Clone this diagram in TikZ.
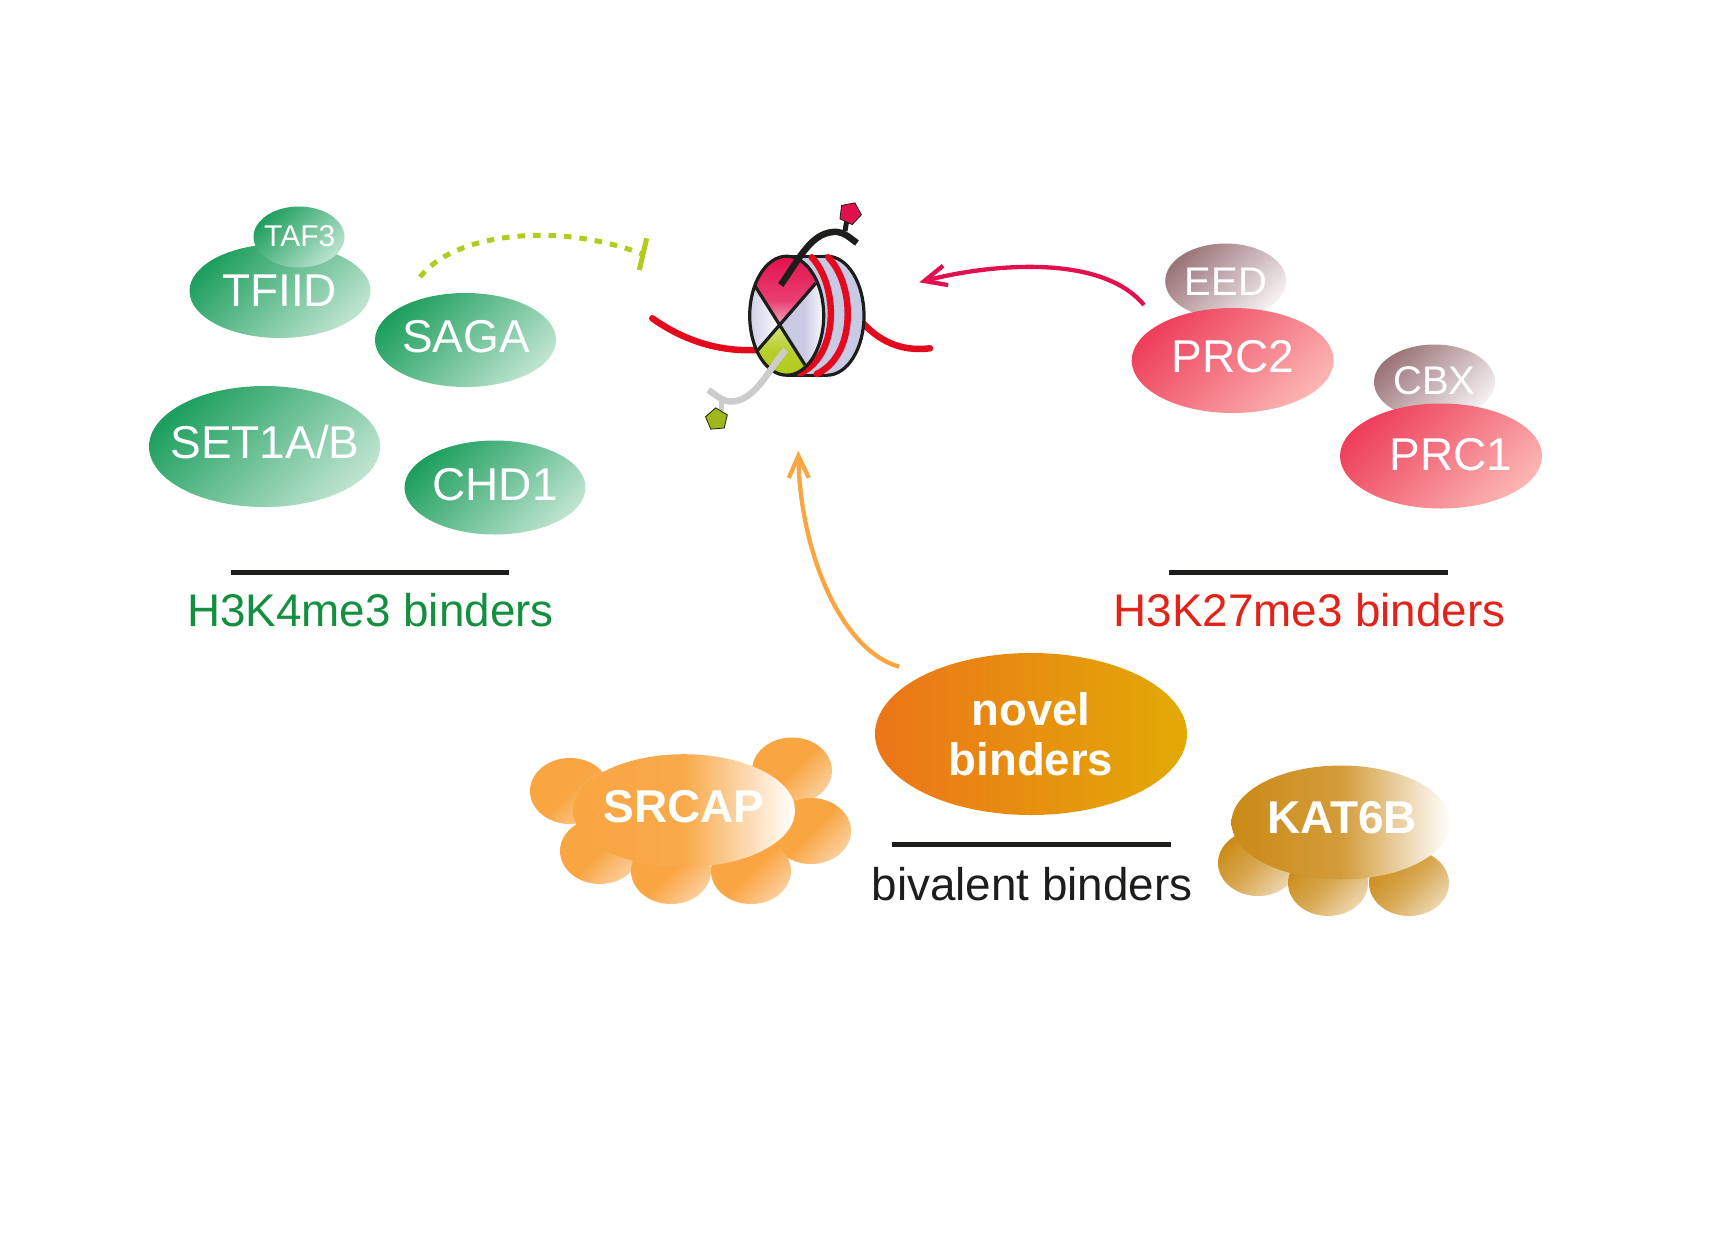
\documentclass[tikz,border=0pt]{standalone}
\usepackage{fontspec}
\setmainfont{Liberation Sans}
\usetikzlibrary{shapes.geometric,arrows.meta}
\definecolor{grnD}{HTML}{1F9F5F}
\definecolor{grnL}{HTML}{BCE3CE}
\definecolor{pnkD}{HTML}{EE3F5C}
\definecolor{pnkL}{HTML}{FBB4B0}
\definecolor{gryD}{HTML}{9A7478}
\definecolor{gryL}{HTML}{F5F0F1}
\definecolor{orgD}{HTML}{F9A541}
\definecolor{orgL}{HTML}{FBCE9C}
\definecolor{brnD}{HTML}{CB8A17}
\definecolor{brnL}{HTML}{EDD5AC}
\definecolor{lime}{HTML}{B2CB1C}
\definecolor{magn}{HTML}{E3104F}
\definecolor{hist}{HTML}{C8C9E3}
\definecolor{dna}{HTML}{E30A1E}
\definecolor{ink}{HTML}{1D1D1B}
\definecolor{novL}{HTML}{EC7519}
\definecolor{novR}{HTML}{E2AA05}
\definecolor{headG}{HTML}{12903F}
\definecolor{headR}{HTML}{E2231A}
\tikzset{
  blob/.style={ellipse, inner sep=0pt},
  h3k4/.style={blob, top color=grnD, bottom color=grnL, shading angle=45, minimum width=181pt, minimum height=94pt},
  prc/.style={blob, top color=pnkD, bottom color=pnkL, shading angle=45, minimum width=202pt, minimum height=105pt},
  sub/.style={blob, top color=gryD, bottom color=gryL, shading angle=45, minimum width=121pt, minimum height=75pt},
  lobeA/.style={blob, top color=orgD, bottom color=orgL, middle color=orgD, shading angle=45, minimum width=80pt, minimum height=66pt},
  lobeB/.style={blob, top color=brnD, bottom color=brnL, middle color=brnD!75!white, shading angle=45, minimum width=80pt, minimum height=66pt},
  lbl/.style={anchor=base, text=white, inner sep=0pt, font=\fontsize{46}{46}\selectfont},
  blbl/.style={lbl, font=\fontsize{46}{46}\selectfont\bfseries},
  head/.style={anchor=base, inner sep=0pt, font=\fontsize{45.8}{45.8}\selectfont},
  rule/.style={draw=ink, line width=5pt},
  tail/.style={line width=6.5pt},
  wrap/.style={dna, line width=6.5pt, line cap=round},
  barb/.style={-{Straight Barb[length=22pt, width=20pt]}, line width=4.3pt},
  pent/.style={regular polygon, regular polygon sides=5, inner sep=0pt, minimum size=23pt, draw=ink, line width=.8pt},
}
\begin{document}
\begin{tikzpicture}[x=1pt, y=-1pt]
\useasboundingbox (0,0) rectangle (1726,1232);

% H3K4me3 side
\node[h3k4] (tfiid) at (280,291) {};
\node[h3k4, minimum width=91pt, minimum height=61pt] (taf3) at (299,237) {};
\node[h3k4] (saga) at (465.5,340) {};
\node[h3k4, minimum width=231pt, minimum height=121pt] (set1) at (264.5,446.5) {};
\node[h3k4] (chd1) at (495,487.5) {};
\node[lbl, font=\fontsize{30}{30}\selectfont] (taf3text) at (299.7,246) {TAF3};
\node[lbl] (tfiidtext) at (279.5,306.7) {TFIID};
\node[lbl] (sagatext) at (466,352.7) {SAGA};
\node[lbl] (set1text) at (265,458) {SET1A/B};
\node[lbl] (chd1text) at (495,500) {CHD1};
\coordinate (ruleAl) at (231,572.5);
\coordinate (ruleAr) at (509,572.5);
\draw[rule] (ruleAl) -- (ruleAr);
\node[head, text=headG] (headA) at (370.5,626) {H3K4me3 binders};

% H3K27me3 side
\node[sub] (eed) at (1225.7,281) {};
\node[prc] (prc2) at (1232.7,360.5) {};
\node[sub] (cbx) at (1434.5,382) {};
\node[prc] (prc1) at (1441,456) {};
\node[lbl, font=\fontsize{40}{40}\selectfont] (eedtext) at (1225.8,295) {EED};
\node[lbl] (prc2text) at (1233,372.7) {PRC2};
\node[lbl, font=\fontsize{40}{40}\selectfont] (cbxtext) at (1434.5,394) {CBX};
\node[lbl] (prc1text) at (1451,470.7) {PRC1};
\coordinate (ruleBl) at (1169,572.5);
\coordinate (ruleBr) at (1448,572.5);
\draw[rule] (ruleBl) -- (ruleBr);
\node[head, text=headR] (headB) at (1309.5,626.5) {H3K27me3 binders};

% bivalent
\foreach \i/\x/\y in {1/570/791,2/792/770.5,3/811/831,4/600/851,5/751/871,6/671/871}
    \node[lobeA] (srcap\i) at (\x,\y) {};
\node[blob, left color=orgD, right color=white, middle color=orgD!95!white, minimum width=222pt, minimum height=113pt] (srcap) at (684,810.7) {};
\node[blbl] (srcaptext) at (684,822.7) {SRCAP};
\foreach \i/\x/\y in {1/1258/863,2/1409/883,3/1328/883}
    \node[lobeB] (kat\i) at (\x,\y) {};
\node[blob, left color=brnD, right color=white, middle color=brnD!85!white, minimum width=219pt, minimum height=114pt] (kat) at (1341,822.5) {};
\node[blbl] (kattext) at (1342,833) {KAT6B};
\node[blob, left color=novL, right color=novR, minimum width=312pt, minimum height=162pt, text=white, align=center, font=\fontsize{45.5}{50}\selectfont\bfseries] (novel) at (1031,734) {novel\\binders};
\coordinate (ruleCl) at (892,844);
\coordinate (ruleCr) at (1171,844);
\draw[rule] (ruleCl) -- (ruleCr);
\node[head, text=ink] (headC) at (1032,900) {bivalent binders};

% nucleosome
\coordinate (nuc) at (786.7,315.7);
\coordinate (mid) at (780.7,324);
\coordinate (ul) at (755,286);
\coordinate (ur) at (815.7,283.3);
\coordinate (ll) at (757.3,350.7);
\coordinate (lr) at (805,365);
\draw[wrap] (652.3,318.3) .. controls (680,338) and (715,352) .. (757,350);
\draw[wrap] (862,322) .. controls (878,340) and (900,352) .. (930,348.3);
\draw[ink, line width=3.2pt, fill=hist] (827,315.7) ellipse [x radius=37pt, y radius=59.5pt];
\fill[hist] (786.7,256.2) rectangle (827,375.2);
\draw[ink, line width=3.2pt] (786.7,256.2) -- (827,256.2) (786.7,375.2) -- (827,375.2);
\draw[wrap] (811.7,257.3) .. controls (838,285) and (840,355) .. (800,373.3);
\draw[wrap] (828.3,257.3) .. controls (855,285) and (857,355) .. (816.7,374);
\begin{scope}
\clip (nuc) ellipse [x radius=37pt, y radius=59.5pt];
\fill[hist] (745,250) rectangle (830,380);
\begin{scope}
\clip (mid) -- (ul) -- (745,250) -- (825,250) -- (ur) -- cycle;
\shade[top color=magn, bottom color=white, middle color=magn!80!white] (745,256) rectangle (830,345);
\end{scope}
\shade[left color=hist, right color=white] (mid) -- (ul) -- (745,286) -- (745,350) -- (ll) -- cycle;
\shade[left color=hist, right color=white, middle color=hist] (mid) -- (ur) -- (826,283) -- (826,365) -- (lr) -- cycle;
\shade[top color=lime!55!white, bottom color=lime, middle color=lime!95!white] (mid) -- (ll) -- (750,380) -- (810,380) -- (lr) -- cycle;
\draw[ink, line width=3.2pt] (ul) -- (lr) (ur) -- (ll);
\end{scope}
\draw[ink, line width=3.2pt] (nuc) ellipse [x radius=37pt, y radius=59.5pt];

% tails
\draw[ink, tail] (780.7,285) .. controls (800,258) and (812,230) .. (838,232) .. controls (845,233) and (850,238) .. (857,243);
\draw[ink, line width=5pt] (845,231) -- (846.7,221);
\node[pent, fill=magn, rotate=-25] (mark1) at (850,213.3) {};
\draw[black!20, tail] (785.7,350) .. controls (768,370) and (755,402) .. (730,401.5) .. controls (722,401) and (716,395) .. (708.3,390);
\draw[black!20, line width=5pt] (721.7,400) -- (721.7,411);
\node[pent, fill=lime!90!black, rotate=5] (mark2) at (716.7,419.3) {};

% connectors
\coordinate (blockA) at (420,277);
\coordinate (blockB) at (642,254);
\coordinate (barA) at (646.7,238.3);
\coordinate (barB) at (639.3,270);
\draw[lime, line width=5pt, dash pattern=on 7.5pt off 8pt] (blockA) .. controls (455,232) and (560,222) .. (blockB);
\draw[lime, line width=5pt] (barA) -- (barB);
\coordinate (prcfrom) at (1144,305);
\coordinate (prcto) at (919.3,282.3);
\draw[barb, magn] (prcfrom) .. controls (1100,252) and (985,265) .. (prcto);
\coordinate (novfrom) at (899.3,666.7);
\coordinate (novto) at (798.3,450.7);
\draw[barb, orgD] (novfrom) .. controls (840,650) and (800,550) .. (novto);
\end{tikzpicture}
\end{document}
